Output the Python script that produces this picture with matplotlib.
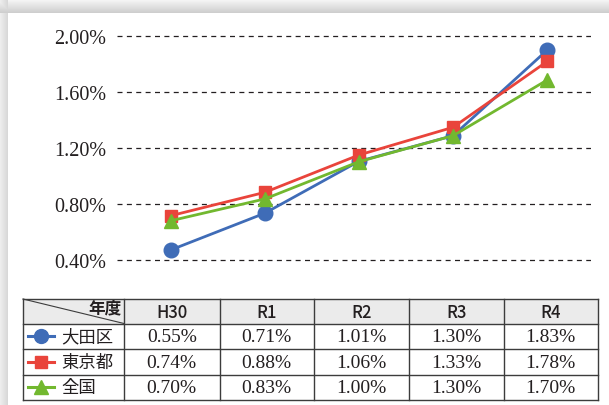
import numpy as np
import matplotlib
matplotlib.use("Agg")
import matplotlib.pyplot as plt

# ---- data ----
years = ["H30", "R1", "R2", "R3", "R4"]
series_names = ["大田区", "東京都", "全国"]
ota = [0.471, 0.734, 1.105, 1.288, 1.900]
tokyo = [0.716, 0.883, 1.150, 1.348, 1.819]
zenkoku = [0.680, 0.836, 1.102, 1.288, 1.686]
table_ota = ["0.55%", "0.71%", "1.01%", "1.30%", "1.83%"]
table_tokyo = ["0.74%", "0.88%", "1.06%", "1.33%", "1.78%"]
table_zenkoku = ["0.70%", "0.83%", "1.00%", "1.30%", "1.70%"]
yticks = [0.40, 0.80, 1.20, 1.60, 2.00]

colors = ["#3f6cb7", "#e9443b", "#72b82f"]
markers = ["o", "s", "^"]
msizes = [10.5, 9, 10]

W, H = 609, 406
fig = plt.figure(figsize=(W / 100, H / 100), dpi=100)
fig.patch.set_facecolor("white")

# background shadow frame
bg = fig.add_axes([0, 0, 1, 1], zorder=-10)
yy, xx = np.mgrid[0:H, 0:W]
top = yy < 14
left = xx < 8
shade = np.ones((H, W))
shade_top = 0.97 - 0.16 * (yy / 13.0)
shade_left = 0.93 - 0.08 * (xx / 7.0)
shade = np.where(top, shade_top, shade)
shade = np.where(left & ~top, shade_left, shade)
shade = np.where(left & top, np.minimum(shade_top, shade_left), shade)
img = np.dstack([shade] * 3)
bg.imshow(img, extent=(0, W, H, 0), aspect="auto", interpolation="bilinear")
bg.set_xlim(0, W)
bg.set_ylim(H, 0)
bg.axis("off")

# ---- chart axes ----
x0px, dxpx = 170.5, 94.2
ax_l, ax_r = 117, 590.5
ay_t, ay_b = 30, 270
y04, ppu = 261.0, 140.0
ax = fig.add_axes([ax_l / W, 1 - ay_b / H, (ax_r - ax_l) / W, (ay_b - ay_t) / H])
ax.set_facecolor("none")
ax.set_xlim((ax_l - x0px) / dxpx, (ax_r - x0px) / dxpx)
ax.set_ylim(0.4 - (ay_b - y04) / ppu, 0.4 + (y04 - ay_t) / ppu)
for s in ax.spines.values():
    s.set_visible(False)
ax.set_xticks([])
ax.set_yticks(yticks)
ax.set_yticklabels([f"{v:.2f}%" for v in yticks], family="Liberation Serif",
                   fontsize=14.5, color="#231f20")
ax.tick_params(axis="y", length=0, pad=8)
for v in yticks:
    ax.axhline(v, color="#231f20", lw=0.9, ls=(0, (4, 3.5)), zorder=1)

xs = np.arange(len(years))
for vals, c, m, ms in zip([ota, tokyo, zenkoku], colors, markers, msizes):
    ax.plot(xs, vals, color=c, lw=2.0, marker=m, ms=ms, mec=c, mfc=c, zorder=3,
            clip_on=False)

# ---- table ----
ov = fig.add_axes([0, 0, 1, 1], zorder=5)
ov.set_xlim(0, W)
ov.set_ylim(H, 0)
ov.axis("off")
ov.set_facecolor("none")

cols = [23, 124, 219.5, 314, 409, 503.5, 598]
rows = [300, 324.5, 350, 375.7, 401]
lc = "#3c3c3c"
ov.fill_between([cols[0], cols[-1]], rows[0], rows[1], color="#ebebeb", lw=0)
for yv in rows:
    ov.plot([cols[0], cols[-1]], [yv, yv], color=lc, lw=1.0)
for xv in cols:
    ov.plot([xv, xv], [rows[0], rows[-1]], color=lc, lw=1.0)
ov.plot([cols[0], cols[1]], [rows[0], rows[1]], color=lc, lw=0.8)
ov.text(cols[1] - 2, rows[0] + 8.5, "年度", family="Noto Sans CJK JP",
        fontsize=12, weight="bold", ha="right", va="center", color="#231f20")

for j, yr in enumerate(years):
    ov.text((cols[j + 1] + cols[j + 2]) / 2, (rows[0] + rows[1]) / 2 + 0.5, yr,
            family="Noto Sans CJK JP", fontsize=12, weight="medium",
            ha="center", va="center", color="#231f20")

tables = [table_ota, table_tokyo, table_zenkoku]
for i, (name, vals) in enumerate(zip(series_names, tables)):
    yc = (rows[i + 1] + rows[i + 2]) / 2
    ov.plot([28, 53.5], [yc, yc], color=colors[i], lw=2.2)
    ov.plot([40.5], [yc], marker=markers[i], ms=msizes[i] - 0.5, color=colors[i])
    ov.text(61.5, yc, name, family="Noto Sans CJK JP", fontsize=12.5,
            ha="left", va="center", color="#231f20")
    for j, v in enumerate(vals):
        ov.text((cols[j + 1] + cols[j + 2]) / 2, yc + 0.5, v,
                family="Liberation Serif", fontsize=14,
                ha="center", va="center", color="#231f20")

fig.savefig("out.png", dpi=100)
